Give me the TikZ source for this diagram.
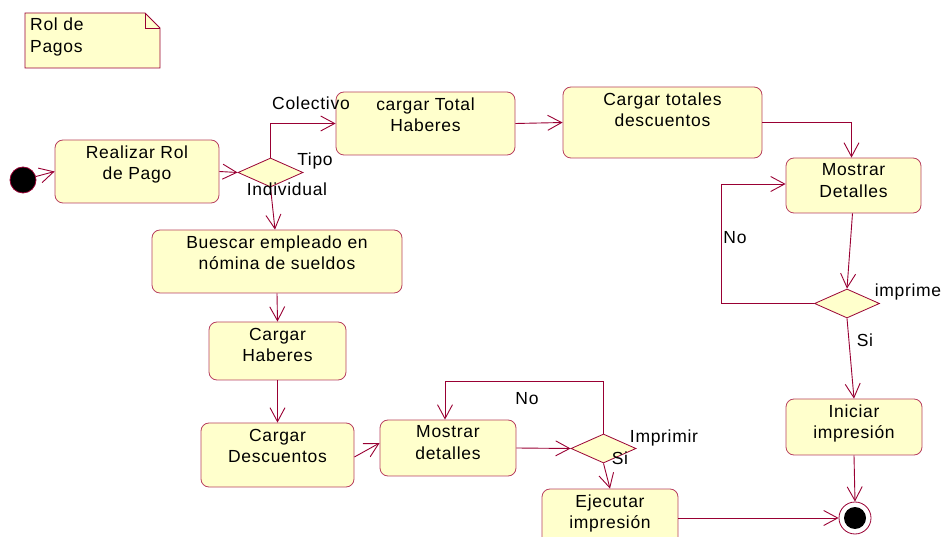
\documentclass[tikz,border=0pt]{standalone}
\usepackage{fontspec}
\setmainfont[LetterSpace=4]{Liberation Sans}
\usetikzlibrary{arrows.meta,shapes.geometric}
\definecolor{lnc}{HTML}{990033}
\definecolor{bdc}{HTML}{B84060}
\definecolor{fil}{HTML}{FFFFCC}
\tikzset{
  actbox/.style={draw=bdc,fill=fil,rounded corners=8pt,line width=0.8pt,inner sep=0pt},
  acttext/.style={anchor=north,align=center,inner sep=0pt,font=\fontsize{17.5}{21.5}\selectfont},
  decis/.style={diamond,draw=lnc,fill=fil,line width=0.8pt,inner sep=0pt,minimum width=65pt,minimum height=29pt},
  conn/.style={draw=lnc,line width=0.9pt,-{Straight Barb[length=14pt,width=15pt,line width=0.9pt]}},
  lbl/.style={inner sep=0pt,font=\fontsize{17.5}{21.5}\selectfont},
}
\begin{document}
\begin{tikzpicture}[x=1pt,y=-1pt]
\useasboundingbox (0,0) rectangle (946,537);
% note
\draw[draw=lnc,fill=fil,line width=0.8pt] (25,13) -- (145,13) -- (160,28) -- (160,68) -- (25,68) -- cycle;
\draw[draw=lnc,line width=0.8pt] (145,13) -- (145,28) -- (160,28);
\node[lbl,anchor=north west,align=left] (note) at (30,18) {Rol de\\Pagos};
% start
\node[circle,fill=black,draw=lnc,line width=0.8pt,minimum size=26pt,inner sep=0pt] (start) at (23,180) {};
% boxes
\node[actbox,minimum width=164pt,minimum height=63pt] (rr) at (137,171.5) {};
\node[acttext] (rrt) at ([yshift=-6pt]rr.north) {Realizar Rol\\de Pago};
\node[actbox,minimum width=179pt,minimum height=63pt] (cth) at (425.5,123.5) {};
\node[acttext] (ctht) at ([yshift=-6pt]cth.north) {cargar Total\\Haberes};
\node[actbox,minimum width=199pt,minimum height=71pt] (ctd) at (662.5,122.5) {};
\node[acttext] (ctdt) at ([yshift=-6pt]ctd.north) {Cargar totales\\descuentos};
\node[actbox,minimum width=135pt,minimum height=55pt] (md) at (853.5,185.5) {};
\node[acttext] (mdt) at ([yshift=-6pt]md.north) {Mostrar\\Detalles};
\node[actbox,minimum width=136pt,minimum height=56pt] (ini) at (854,427) {};
\node[acttext] (init) at ([yshift=-6pt]ini.north) {Iniciar\\impresión};
\node[actbox,minimum width=250pt,minimum height=63pt] (be) at (277,261.5) {};
\node[acttext] (bet) at ([yshift=-6pt]be.north) {Buescar empleado en\\nómina de sueldos};
\node[actbox,minimum width=137pt,minimum height=58pt] (ch) at (277.5,351) {};
\node[acttext] (cht) at ([yshift=-6pt]ch.north) {Cargar\\Haberes};
\node[actbox,minimum width=153pt,minimum height=64pt] (cd) at (277.5,455) {};
\node[acttext] (cdt) at ([yshift=-6pt]cd.north) {Cargar\\Descuentos};
\node[actbox,minimum width=136pt,minimum height=56pt] (mdl) at (448,448) {};
\node[acttext] (mdlt) at ([yshift=-6pt]mdl.north) {Mostrar\\detalles};
\node[actbox,minimum width=136pt,minimum height=58pt] (ej) at (610,518) {};
\node[acttext] (ejt) at ([yshift=-6pt]ej.north) {Ejecutar\\impresión};
% decisions
\node[decis] (tipo) at (270.5,172.5) {};
\node[decis] (imp) at (847,303.5) {};
\node[decis] (imr) at (603.5,448.5) {};
% end
\node[circle,draw=lnc,fill=white,line width=0.8pt,minimum size=32pt,inner sep=0pt] (end) at (855,518) {};
\node[circle,fill=black,minimum size=22pt,inner sep=0pt] (endin) at (end.center) {};
% connectors
\draw[conn] (start) -- (rr.west);
\draw[conn] (rr.east) -- (tipo.west);
\draw[conn] (tipo.north) |- (cth.west);
\draw[conn] (cth.east) -- (ctd.west);
\draw[conn] (ctd.east) -| ([xshift=-2pt]md.north);
\draw[conn] ([xshift=-1pt]md.south) -- (imp.north);
\draw[conn] (imp.west) -- ++(-93,0) |- ([yshift=1.5pt]md.west);
\draw[conn] (imp.south) -- (ini.north);
\draw[conn] (ini.south) -- (end.north);
\draw[conn] (tipo.south) -- ([xshift=-2pt]be.north);
\draw[conn] (be.south) -- (ch.north);
\draw[conn] (ch.south) -- (cd.north);
\draw[conn] ([yshift=-2pt]cd.east) -- ([yshift=5pt]mdl.west);
\draw[conn] (mdl.east) -- (imr.west);
\draw[conn] (imr.north) -- ++(0,-52) -| ([xshift=-3pt]mdl.north);
\draw[conn] (imr.south) -- (ej.north);
\draw[conn] (ej.east) -- (end.west);
% labels
\node[lbl] (lcol) at (311,103) {Colectivo};
\node[lbl] (ltipo) at (315,161) {Tipo};
\node[lbl] (lind) at (287,189) {Individual};
\node[lbl] (lno1) at (735,238) {No};
\node[lbl] (limp) at (908,292) {imprime};
\node[lbl] (lsi1) at (865,340) {Si};
\node[lbl] (lno2) at (527,399) {No};
\node[lbl] (limr) at (664,438) {Imprimir};
\node[lbl] (lsi2) at (620,458) {Si};
\end{tikzpicture}
\end{document}
